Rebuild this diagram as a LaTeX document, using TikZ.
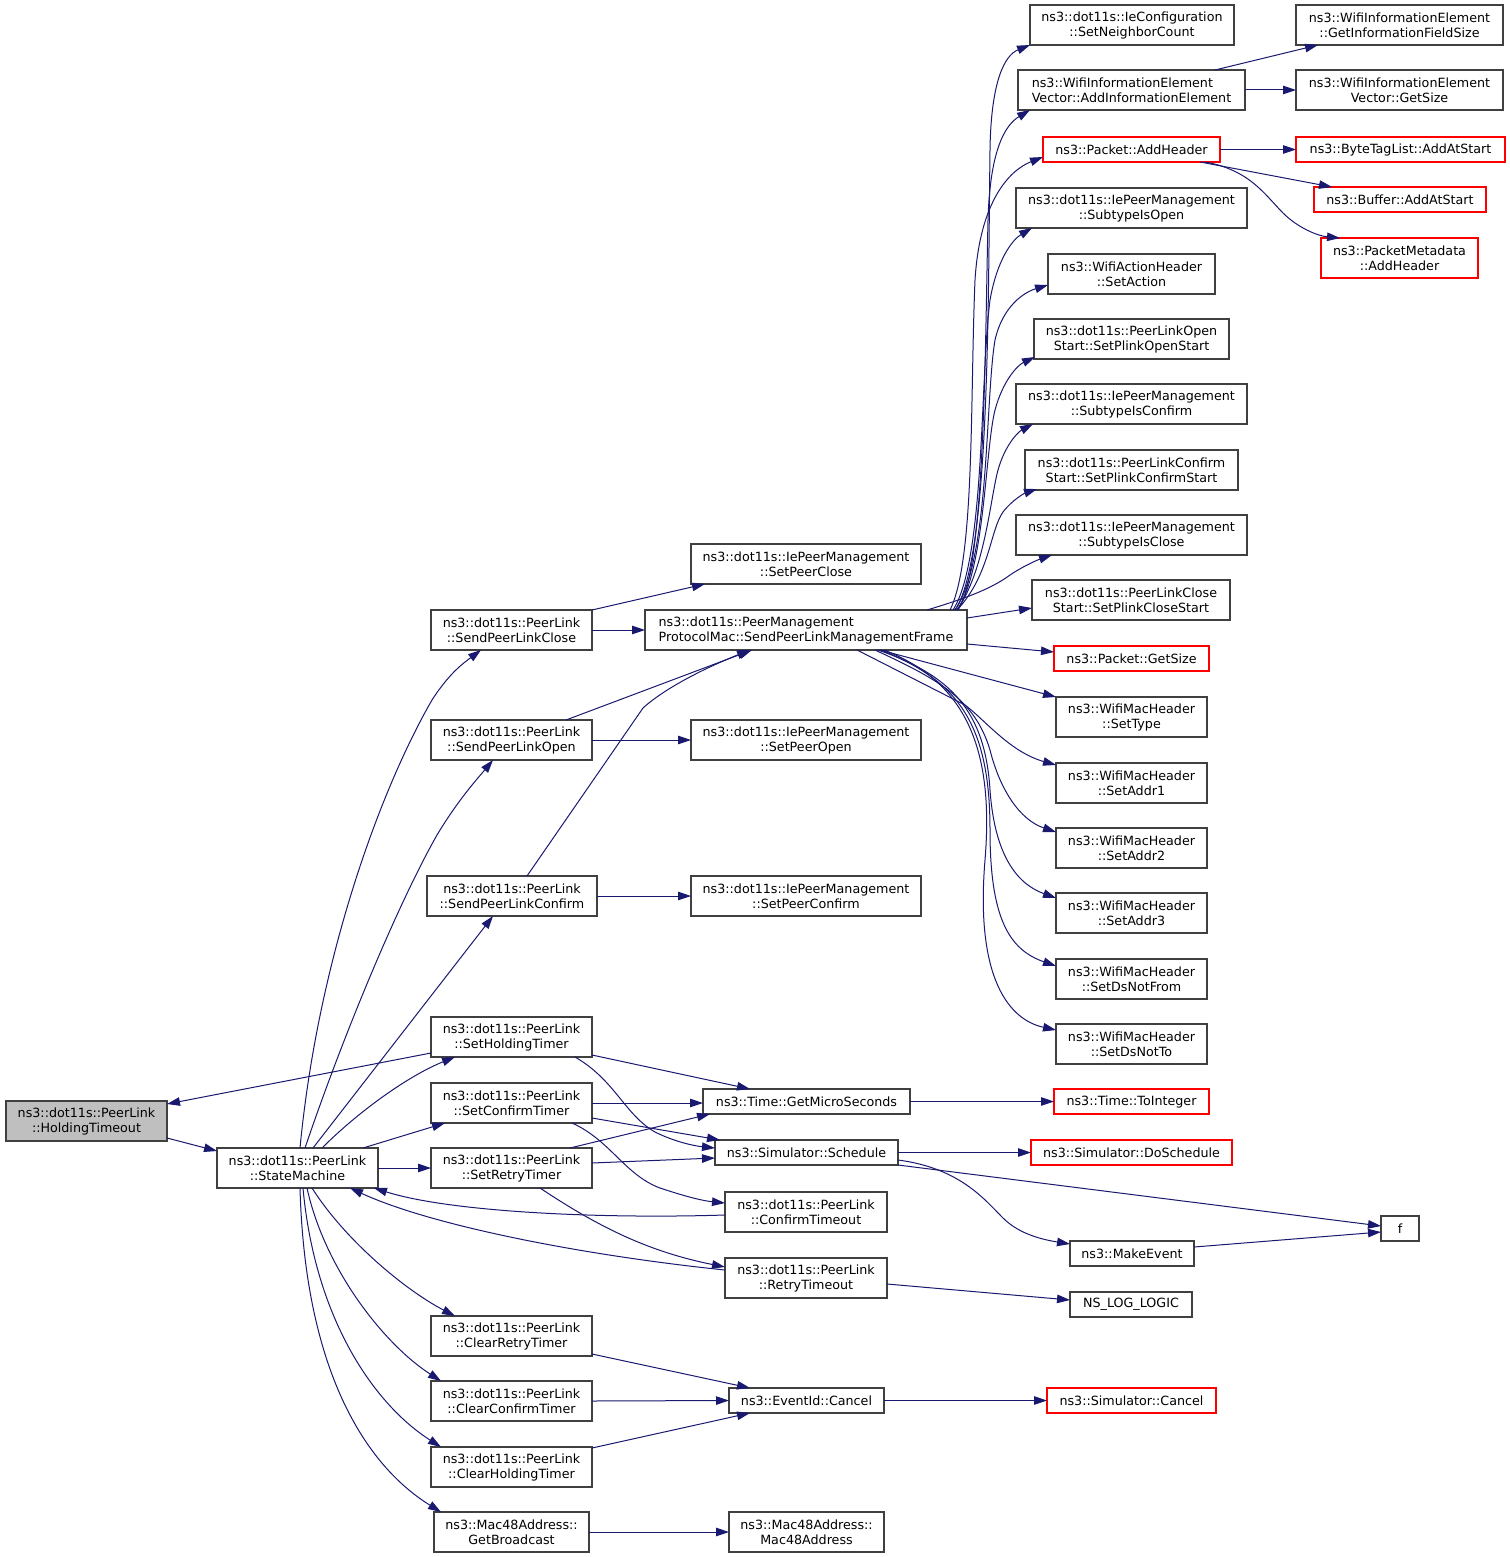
\documentclass[tikz,border=0pt]{standalone}
\usepackage{fontspec}
\setmainfont{DejaVu Sans}
\usetikzlibrary{arrows.meta}
\definecolor{edgec}{HTML}{191970}
\definecolor{bordc}{HTML}{404040}
\definecolor{grayfill}{HTML}{BFBFBF}
\begin{document}
\begin{tikzpicture}[x=1pt,y=-1pt,
  box/.style={draw=bordc,line width=1.2pt,fill=white,inner sep=0pt,outer sep=0pt,
    anchor=north west,align=center,font=\fontsize{12.7}{15}\selectfont},
  redbox/.style={box,draw=red},
  lbox/.style={box,align=left},
  ed/.style={draw=edgec,line width=1pt,-{Triangle[length=13pt,width=8.5pt]}},
]
\useasboundingbox[fill=white] (0,0) rectangle (1509,1557);
% ---------- nodes ----------
\node[box,fill=grayfill,minimum width=161pt,minimum height=40pt] (hold) at (6,1101) {ns3::dot11s::PeerLink\\::HoldingTimeout};
\node[box,minimum width=161pt,minimum height=40pt] (sm) at (217,1148) {ns3::dot11s::PeerLink\\::StateMachine};
\node[box,minimum width=161pt,minimum height=40pt] (spc) at (431,610) {ns3::dot11s::PeerLink\\::SendPeerLinkClose};
\node[box,minimum width=161pt,minimum height=40pt] (spo) at (431,720) {ns3::dot11s::PeerLink\\::SendPeerLinkOpen};
\node[box,minimum width=170pt,minimum height=40pt] (spf) at (427,876) {ns3::dot11s::PeerLink\\::SendPeerLinkConfirm};
\node[box,minimum width=161pt,minimum height=40pt] (sht) at (431,1017) {ns3::dot11s::PeerLink\\::SetHoldingTimer};
\node[box,minimum width=161pt,minimum height=40pt] (sct) at (431,1083) {ns3::dot11s::PeerLink\\::SetConfirmTimer};
\node[box,minimum width=161pt,minimum height=40pt] (srt) at (431,1148) {ns3::dot11s::PeerLink\\::SetRetryTimer};
\node[box,minimum width=161pt,minimum height=40pt] (crt) at (431,1316) {ns3::dot11s::PeerLink\\::ClearRetryTimer};
\node[box,minimum width=161pt,minimum height=40pt] (cct) at (431,1381) {ns3::dot11s::PeerLink\\::ClearConfirmTimer};
\node[box,minimum width=161pt,minimum height=40pt] (cht) at (431,1447) {ns3::dot11s::PeerLink\\::ClearHoldingTimer};
\node[box,minimum width=155pt,minimum height=40pt] (gb) at (434,1512) {ns3::Mac48Address::\\GetBroadcast};
\node[box,minimum width=230pt,minimum height=40pt] (sclose) at (691,544) {ns3::dot11s::IePeerManagement\\::SetPeerClose};
\node[lbox,minimum width=322pt,minimum height=40pt] (mf) at (645,610) {ns3::dot11s::PeerManagement\\ProtocolMac::SendPeerLinkManagementFrame};
\node[box,minimum width=230pt,minimum height=40pt] (sopen) at (691,720) {ns3::dot11s::IePeerManagement\\::SetPeerOpen};
\node[box,minimum width=230pt,minimum height=40pt] (sconf) at (691,876) {ns3::dot11s::IePeerManagement\\::SetPeerConfirm};
\node[box,minimum width=207pt,minimum height=25pt] (gms) at (703,1089) {ns3::Time::GetMicroSeconds};
\node[box,minimum width=183pt,minimum height=25pt] (sched) at (715,1140) {ns3::Simulator::Schedule};
\node[box,minimum width=162pt,minimum height=40pt] (cto) at (725,1192) {ns3::dot11s::PeerLink\\::ConfirmTimeout};
\node[box,minimum width=162pt,minimum height=40pt] (rto) at (725,1258) {ns3::dot11s::PeerLink\\::RetryTimeout};
\node[box,minimum width=155pt,minimum height=25pt] (cancel) at (729,1388) {ns3::EventId::Cancel};
\node[box,minimum width=155pt,minimum height=40pt] (mac) at (729,1512) {ns3::Mac48Address::\\Mac48Address};
\node[box,minimum width=204pt,minimum height=40pt] (nbc) at (1030,5) {ns3::dot11s::IeConfiguration\\::SetNeighborCount};
\node[lbox,minimum width=227pt,minimum height=40pt] (aie) at (1018,70) {ns3::WifiInformationElement\\Vector::AddInformationElement};
\node[redbox,minimum width=177pt,minimum height=25pt] (addh) at (1043,137) {ns3::Packet::AddHeader};
\node[box,minimum width=231pt,minimum height=40pt] (sio) at (1016,188) {ns3::dot11s::IePeerManagement\\::SubtypeIsOpen};
\node[box,minimum width=167pt,minimum height=40pt] (sa) at (1048,254) {ns3::WifiActionHeader\\::SetAction};
\node[box,minimum width=195pt,minimum height=40pt] (pos) at (1034,319) {ns3::dot11s::PeerLinkOpen\\Start::SetPlinkOpenStart};
\node[box,minimum width=231pt,minimum height=40pt] (sic) at (1016,384) {ns3::dot11s::IePeerManagement\\::SubtypeIsConfirm};
\node[box,minimum width=213pt,minimum height=40pt] (pcs) at (1025,450) {ns3::dot11s::PeerLinkConfirm\\Start::SetPlinkConfirmStart};
\node[box,minimum width=231pt,minimum height=40pt] (sicl) at (1016,515) {ns3::dot11s::IePeerManagement\\::SubtypeIsClose};
\node[box,minimum width=198pt,minimum height=40pt] (pcl) at (1032,580) {ns3::dot11s::PeerLinkClose\\Start::SetPlinkCloseStart};
\node[redbox,minimum width=155pt,minimum height=25pt] (gsize) at (1054,646) {ns3::Packet::GetSize};
\node[box,minimum width=151pt,minimum height=40pt] (stype) at (1056,697) {ns3::WifiMacHeader\\::SetType};
\node[box,minimum width=151pt,minimum height=40pt] (a1) at (1056,763) {ns3::WifiMacHeader\\::SetAddr1};
\node[box,minimum width=151pt,minimum height=40pt] (a2) at (1056,828) {ns3::WifiMacHeader\\::SetAddr2};
\node[box,minimum width=151pt,minimum height=40pt] (a3) at (1056,893) {ns3::WifiMacHeader\\::SetAddr3};
\node[box,minimum width=151pt,minimum height=40pt] (dnf) at (1056,959) {ns3::WifiMacHeader\\::SetDsNotFrom};
\node[box,minimum width=151pt,minimum height=40pt] (dnt) at (1056,1024) {ns3::WifiMacHeader\\::SetDsNotTo};
\node[redbox,minimum width=155pt,minimum height=25pt] (toint) at (1054,1089) {ns3::Time::ToInteger};
\node[redbox,minimum width=201pt,minimum height=25pt] (dosch) at (1031,1140) {ns3::Simulator::DoSchedule};
\node[box,minimum width=124pt,minimum height=25pt] (mke) at (1070,1241) {ns3::MakeEvent};
\node[box,minimum width=122pt,minimum height=25pt] (nslog) at (1070,1292) {NS\_LOG\_LOGIC};
\node[redbox,minimum width=169pt,minimum height=25pt] (scancel) at (1047,1388) {ns3::Simulator::Cancel};
\node[box,minimum width=38pt,minimum height=25pt] (f) at (1381,1216) {f};
\node[box,minimum width=207pt,minimum height=40pt] (gifs) at (1296,5) {ns3::WifiInformationElement\\::GetInformationFieldSize};
\node[box,minimum width=207pt,minimum height=40pt] (vgs) at (1296,70) {ns3::WifiInformationElement\\Vector::GetSize};
\node[redbox,minimum width=209pt,minimum height=25pt] (btl) at (1296,137) {ns3::ByteTagList::AddAtStart};
\node[redbox,minimum width=172pt,minimum height=25pt] (buf) at (1314,187) {ns3::Buffer::AddAtStart};
\node[redbox,minimum width=157pt,minimum height=40pt] (pmd) at (1321,238) {ns3::PacketMetadata\\::AddHeader};
% ---------- edges ----------
\path[ed] ([shift={(161,37)}]hold.north west) -- ([shift={(0,3)}]sm.north west);
\path[ed] ([shift={(0,36)}]sht.north west) -- ([shift={(161,3)}]hold.north west);
\path[ed] ([shift={(83,0)}]sm.north west) .. controls (318,960) and (380,790) .. (432,700) .. controls (450,672) and (465,662) .. ([shift={(50,40)}]spc.north west);
\path[ed] ([shift={(88,0)}]sm.north west) .. controls (345,1030) and (400,900) .. (437,835) .. controls (458,800) and (478,778) .. ([shift={(62,40)}]spo.north west);
\path[ed] ([shift={(96,0)}]sm.north west) -- ([shift={(66,40)}]spf.north west);
\path[ed] ([shift={(105,0)}]sm.north west) .. controls (360,1110) and (410,1075) .. ([shift={(24,40)}]sht.north west);
\path[ed] ([shift={(146,0)}]sm.north west) -- ([shift={(14,40)}]sct.north west);
\path[ed] (sm.east) -- (srt.west);
\path[ed] ([shift={(95,40)}]sm.north west) .. controls (345,1240) and (405,1290) .. ([shift={(24,0)}]crt.north west);
\path[ed] ([shift={(90,40)}]sm.north west) .. controls (325,1270) and (385,1345) .. ([shift={(10,0)}]cct.north west);
\path[ed] ([shift={(86,40)}]sm.north west) .. controls (315,1320) and (375,1405) .. ([shift={(10,0)}]cht.north west);
\path[ed] ([shift={(83,40)}]sm.north west) .. controls (305,1370) and (365,1465) .. ([shift={(7,0)}]gb.north west);
\path[ed] ([shift={(161,0)}]spc.north west) -- ([shift={(14,40)}]sclose.north west);
\path[ed] (spc.east) -- (mf.west);
\path[ed] ([shift={(135,0)}]spo.north west) -- ([shift={(107,40)}]mf.north west);
\path[ed] (spo.east) -- (sopen.west);
\path[ed] ([shift={(100,0)}]spf.north west) -- (643,708) .. controls (665,688) and (705,668) .. ([shift={(105,40)}]mf.north west);
\path[ed] (spf.east) -- (sconf.west);
\path[ed] ([shift={(161,38)}]sht.north west) -- ([shift={(47,0)}]gms.north west);
\path[ed] ([shift={(144,40)}]sht.north west) .. controls (615,1080) and (625,1115) .. (655,1132) .. controls (675,1142) and (695,1146) .. ([shift={(0,8)}]sched.north west);
\path[ed] (sct.east) -- (gms.west |- sct.east);
\path[ed] ([shift={(161,35)}]sct.north west) -- ([shift={(5,0)}]sched.north west);
\path[ed] ([shift={(141,40)}]sct.north west) .. controls (610,1140) and (625,1175) .. (660,1188) .. controls (690,1198) and (705,1201) .. ([shift={(0,11)}]cto.north west);
\path[ed] ([shift={(139,0)}]srt.north west) -- ([shift={(7,25)}]gms.north west);
\path[ed] ([shift={(161,15)}]srt.north west) -- ([shift={(0,18)}]sched.north west);
\path[ed] ([shift={(109,40)}]srt.north west) .. controls (600,1228) and (650,1252) .. ([shift={(0,9)}]rto.north west);
\path[ed] ([shift={(0,23)}]cto.north west) .. controls (600,1219) and (450,1212) .. ([shift={(-4,0)}]sm.south east);
\path[ed] ([shift={(0,12)}]rto.north west) .. controls (580,1255) and (430,1225) .. ([shift={(133,40)}]sm.north west);
\path[ed] ([shift={(162,26)}]rto.north west) -- ([shift={(0,8)}]nslog.north west);
\path[ed] (gms.east) -- (toint.west);
\path[ed] (sched.east) -- (dosch.west);
\path[ed] ([shift={(183,20)}]sched.north west) .. controls (960,1168) and (985,1200) .. (1003,1218) .. controls (1020,1235) and (1045,1240) .. ([shift={(0,3)}]mke.north west);
\path[ed] ([shift={(183,25)}]sched.north west) -- ([shift={(0,10)}]f.north west);
\path[ed] ([shift={(124,6)}]mke.north west) -- ([shift={(0,16)}]f.north west);
\path[ed] ([shift={(161,38)}]crt.north west) -- ([shift={(21,0)}]cancel.north west);
\path[ed] (cct.east) -- (cancel.west);
\path[ed] ([shift={(161,1)}]cht.north west) -- ([shift={(21,25)}]cancel.north west);
\path[ed] (cancel.east) -- (scancel.west);
\path[ed] (gb.east) -- (mac.west);
\path[ed] ([shift={(197,0)}]aie.north west) -- ([shift={(22,40)}]gifs.north west);
\path[ed] (aie.east) -- (vgs.west);
\path[ed] (addh.east) -- (btl.west);
\path[ed] ([shift={(157,25)}]addh.north west) -- ([shift={(18,0)}]buf.north west);
\path[ed] ([shift={(162,25)}]addh.north west) .. controls (1250,170) and (1265,195) .. (1283,213) .. controls (1298,228) and (1318,236) .. ([shift={(19,0)}]pmd.north west);
% fan-out of SendPeerLinkManagementFrame (upwards)
\path[ed] ([shift={(310,0)}]mf.north west) .. controls (990,560) and (988,300) .. (990,150) .. controls (991,80) and (1005,55) .. (nbc.south west);
\path[ed] ([shift={(313,0)}]mf.north west) .. controls (985,570) and (985,350) .. (988,220) .. controls (990,150) and (1005,125) .. ([shift={(12,40)}]aie.north west);
\path[ed] ([shift={(305,0)}]mf.north west) .. controls (975,560) and (970,400) .. (975,280) .. controls (980,200) and (1010,170) .. ([shift={(0,20)}]addh.north west);
\path[ed] ([shift={(308,0)}]mf.north west) .. controls (985,560) and (980,380) .. (990,300) .. controls (997,260) and (1012,240) .. ([shift={(16,40)}]sio.north west);
\path[ed] ([shift={(310,0)}]mf.north west) .. controls (990,560) and (985,400) .. (995,340) .. controls (1003,305) and (1025,292) .. ([shift={(0,31)}]sa.north west);
\path[ed] ([shift={(312,0)}]mf.north west) .. controls (985,570) and (985,450) .. (995,410) .. controls (1003,380) and (1018,365) .. ([shift={(1,38)}]pos.north west);
\path[ed] ([shift={(312,0)}]mf.north west) .. controls (985,570) and (990,500) .. (998,470) .. controls (1005,445) and (1018,432) .. ([shift={(17,40)}]sic.north west);
\path[ed] ([shift={(312,0)}]mf.north west) .. controls (990,575) and (990,530) .. (1003,512) .. controls (1012,500) and (1025,493) .. ([shift={(12,39)}]pcs.north west);
\path[ed] ([shift={(282,0)}]mf.north west) .. controls (960,600) and (990,590) .. (1010,575) .. controls (1025,565) and (1040,559) .. ([shift={(36,40)}]sicl.north west);
\path[ed] ([shift={(322,8)}]mf.north west) -- ([shift={(0,28)}]pcl.north west);
\path[ed] ([shift={(322,34)}]mf.north west) -- ([shift={(0,6)}]gsize.north west);
% fan-out (downwards)
\path[ed] ([shift={(235,40)}]mf.north west) -- (stype.north west);
\path[ed] ([shift={(212,40)}]mf.north west) -- (965,705) .. controls (985,720) and (1010,752) .. ([shift={(0,2)}]a1.north west);
\path[ed] ([shift={(230,40)}]mf.north west) .. controls (940,680) and (975,700) .. (990,750) .. controls (1000,790) and (1020,820) .. ([shift={(0,4)}]a2.north west);
\path[ed] ([shift={(233,40)}]mf.north west) .. controls (950,675) and (985,710) .. (990,790) .. controls (995,860) and (1020,885) .. ([shift={(0,5)}]a3.north west);
\path[ed] ([shift={(236,40)}]mf.north west) .. controls (955,680) and (990,720) .. (990,830) .. controls (990,920) and (1010,950) .. ([shift={(0,7)}]dnf.north west);
\path[ed] ([shift={(239,40)}]mf.north west) .. controls (960,680) and (995,740) .. (985,860) .. controls (975,980) and (1010,1020) .. ([shift={(0,6)}]dnt.north west);
\end{tikzpicture}
\end{document}
